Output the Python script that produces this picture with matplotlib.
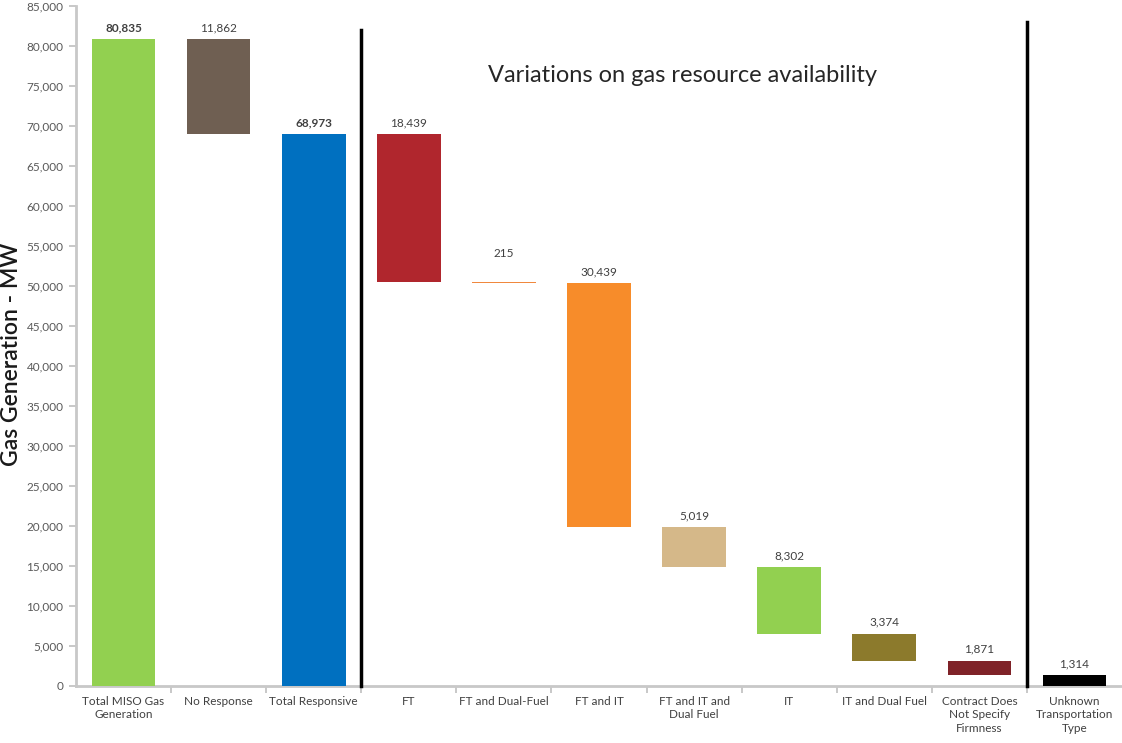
import numpy as np
import matplotlib
matplotlib.use("Agg")
import matplotlib.pyplot as plt
from matplotlib.ticker import FuncFormatter

# Waterfall data (MW)
categories = ["Total MISO Gas\nGeneration", "No Response", "Total Responsive", "FT",
              "FT and Dual-Fuel", "FT and IT", "FT and IT and\nDual Fuel", "IT",
              "IT and Dual Fuel", "Contract Does\nNot Specify\nFirmness",
              "Unknown\nTransportation\nType"]
values = [80835, 11862, 68973, 18439, 215, 30439, 5019, 8302, 3374, 1871, 1314]
is_total = [True, False, True, False, False, False, False, False, False, False, False]
colors = ["#92d050", "#6f5f52", "#0070c0", "#b0262d", "#f0883e", "#f78c2a",
          "#d5b889", "#92d050", "#8c7a2c", "#7f2228", "#000000"]
bold_label = [True, False, True, False, False, False, False, False, False, False, False]

# Work out the floating base of each step
bottoms = []
level = 0
for v, tot in zip(values, is_total):
    if tot:
        bottoms.append(0)
        level = v
    else:
        level = level - v
        bottoms.append(level)

plt.rcParams['font.family'] = ['Lato', 'DejaVu Sans']

fig = plt.figure(figsize=(11.22, 7.43), dpi=100)
ax = fig.add_axes([76 / 1122, (743 - 686) / 743, (1122 - 76) / 1122, 680 / 743])

x = np.arange(len(values))
ax.bar(x, values, bottom=bottoms, width=0.67, color=colors, zorder=3)

# value labels
for xi, v, b, bold in zip(x, values, bottoms, bold_label):
    off = 8 if v > 1000 else 20
    ax.annotate(f"{v:,}", (xi, b + v), xytext=(0, off), textcoords="offset points",
                ha="center", va="center", fontsize=8.5, color="#404040",
                fontweight="bold" if bold else "normal")

# separators between groups
ax.plot([2.5, 2.5], [0, 82000], color="black", lw=2.5, zorder=4, clip_on=False)
ax.plot([9.5, 9.5], [0, 83000], color="black", lw=2.5, zorder=4, clip_on=False)
ax.text(5.88, 76300, "Variations on gas resource availability", ha="center", va="center",
        fontsize=17, color="#262626")

ax.set_xlim(-0.5, len(values) - 0.5)
ax.set_ylim(0, 85000)
ax.set_yticks(np.arange(0, 85001, 5000))
ax.yaxis.set_major_formatter(FuncFormatter(lambda v, p: f"{int(v):,}"))
ax.set_xticks(x)
ax.set_xticklabels(categories, fontsize=8.5, color="#404040", linespacing=1.3)
ax.set_xticks(np.arange(0.5, len(values) - 1, 1), minor=True)
ax.tick_params(axis="x", which="major", length=0, pad=7)
ax.tick_params(axis="x", which="minor", length=5, width=1.2, color="#bfbfbf")
ax.tick_params(axis="y", length=5, width=1.2, color="#bfbfbf", labelsize=8.5,
               labelcolor="#595959", pad=4)
ax.set_ylabel("Gas Generation - MW", fontsize=16.5, fontweight="semibold", color="#1a1a1a")
ax.yaxis.set_label_coords(-0.0516, 0.487)

for s in ["top", "right"]:
    ax.spines[s].set_visible(False)
for s in ["left", "bottom"]:
    ax.spines[s].set_color("#c8c8c8")
    ax.spines[s].set_linewidth(2)

fig.savefig("out.png", dpi=100)
